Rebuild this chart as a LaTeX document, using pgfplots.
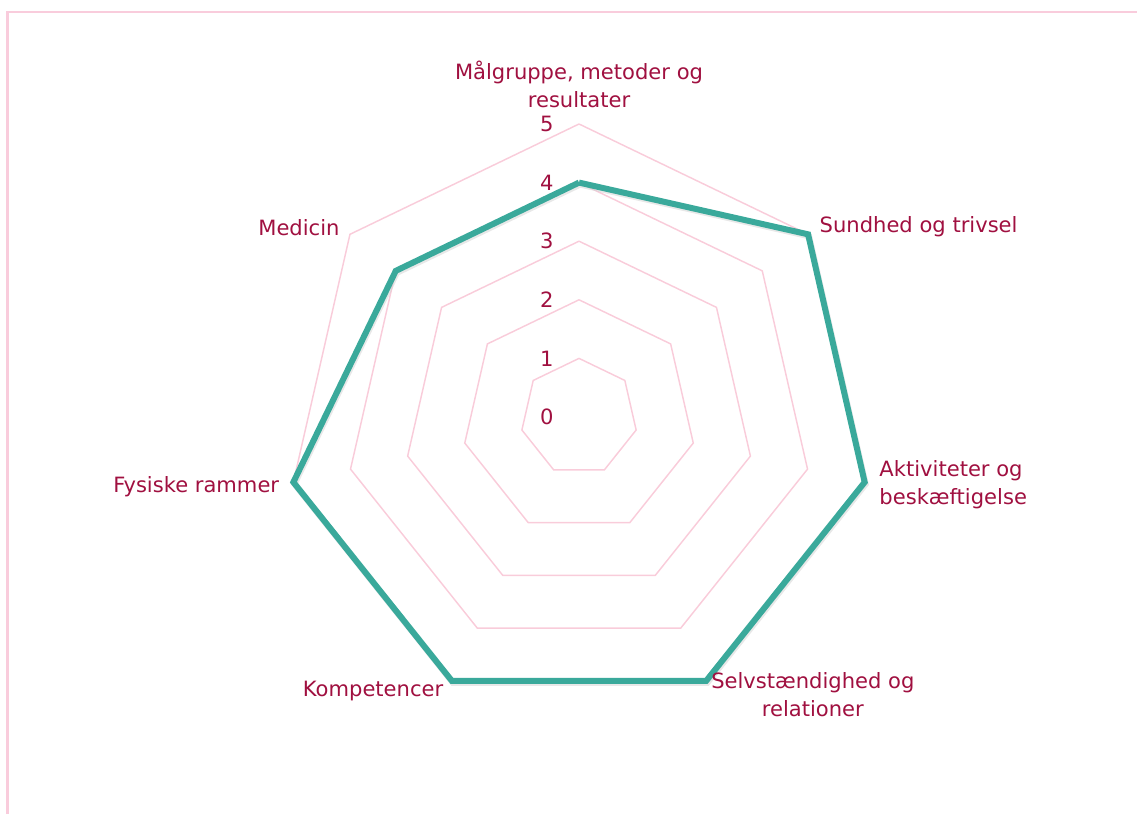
\documentclass[border=0pt]{standalone}
\usepackage{pgfplots}
\pgfplotsset{compat=1.18}
\usepackage{fontspec}
\setmainfont{DejaVu Sans}
\definecolor{txt}{HTML}{A01040}
\definecolor{teal2}{HTML}{3AA99B}
\definecolor{gridp}{HTML}{F9CCDA}
\definecolor{framep}{HTML}{F9CCDC}
\tikzset{lab/.style={font=\fontsize{15.8}{21}\selectfont, text=txt, inner sep=1pt}}
\begin{document}
\begin{tikzpicture}
\begin{axis}[
  width=852.75pt, height=610.5pt, scale only axis,
  xmin=-9.881, xmax=9.522, ymin=-6.775, ymax=7.116,
  hide axis,
]
\path (rel axis cs:0,0) rectangle (rel axis cs:1,1);
% frame
\draw[framep, line width=1.8pt] (axis cs:-9.75,-8) -- (axis cs:-9.75,6.91) -- (axis cs:9.6,6.91);
% grid heptagons
\foreach \r in {1,2,3,4,5}{
\edef\tmp{\noexpand\addplot[gridp, line width=1.1pt, data cs=polar] coordinates {(90,\r) (38.571,\r) (-12.857,\r) (-64.286,\r) (-115.714,\r) (-167.143,\r) (-218.571,\r) (90,\r)};}
\tmp
}
% shadow
\addplot[black!18, line width=4.5pt, data cs=polar, opacity=0.5, line join=miter, yshift=-1.5pt, xshift=0.8pt] coordinates {
(90,4) (38.571,5) (-12.857,5) (-64.286,5) (-115.714,5) (-167.143,5) (-218.571,4) (90,4)};
% series
\addplot[teal2, line width=4.5pt, data cs=polar, line join=miter] coordinates {
(90,4) (38.571,5) (-12.857,5) (-64.286,5) (-115.714,5) (-167.143,5) (-218.571,4) (90,4)};
% level labels
\foreach \r in {0,1,2,3,4,5}{
\edef\tmp{\noexpand\node[lab] at (axis cs:-0.55,\r) {\r};}
\tmp
}
\node[lab, align=center] at (axis cs:0,5.68) {Målgruppe, metoder og\\resultater};
\node[lab, anchor=west] at (axis cs:4.08,3.24) {Sundhed og trivsel};
\node[lab, anchor=west, align=left] at (axis cs:5.10,-1.16) {Aktiviteter og\\beskæftigelse};
\node[lab, align=center] at (axis cs:3.99,-4.73) {Selvstændighed og\\relationer};
\node[lab, anchor=east] at (axis cs:-2.29,-4.68) {Kompetencer};
\node[lab, anchor=east] at (axis cs:-5.09,-1.19) {Fysiske rammer};
\node[lab, anchor=east] at (axis cs:-4.06,3.23) {Medicin};
\end{axis}
\end{tikzpicture}
\end{document}
